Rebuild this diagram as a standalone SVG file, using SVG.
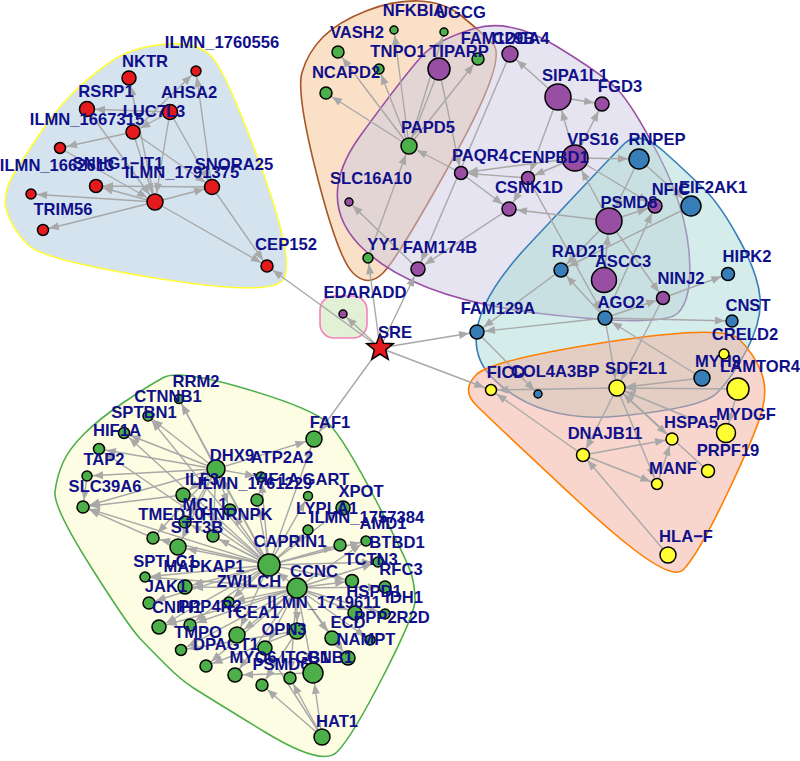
<svg xmlns="http://www.w3.org/2000/svg" width="800" height="761" viewBox="0 0 800 761">
<style>
.e path{stroke:#a8a8a8;stroke-width:1.4;fill:none}
.h{stroke-width:1.6;fill-opacity:0.5}
circle{stroke:#000;stroke-width:1.5}
text{font-family:"Liberation Sans",Arial,sans-serif;font-weight:bold;font-size:16.6px;fill:#10108a;text-anchor:middle}
.r circle{fill:#E41A1C}.g circle{fill:#4DAF4A}.p circle{fill:#984EA3}.b circle{fill:#377EB8}.y circle{fill:#FFFF33}
marker{overflow:visible}
</style>
<defs>
<marker id="a4" markerUnits="userSpaceOnUse" markerWidth="1" markerHeight="1" refX="5" refY="0" orient="auto" overflow="visible"><path d="M-10,-4L0,0L-10,4Z" fill="#a8a8a8"/></marker>
<marker id="a5" markerUnits="userSpaceOnUse" markerWidth="1" markerHeight="1" refX="6" refY="0" orient="auto" overflow="visible"><path d="M-10,-4L0,0L-10,4Z" fill="#a8a8a8"/></marker>
<marker id="a6" markerUnits="userSpaceOnUse" markerWidth="1" markerHeight="1" refX="7" refY="0" orient="auto" overflow="visible"><path d="M-10,-4L0,0L-10,4Z" fill="#a8a8a8"/></marker>
<marker id="a7" markerUnits="userSpaceOnUse" markerWidth="1" markerHeight="1" refX="8" refY="0" orient="auto" overflow="visible"><path d="M-10,-4L0,0L-10,4Z" fill="#a8a8a8"/></marker>
<marker id="a8" markerUnits="userSpaceOnUse" markerWidth="1" markerHeight="1" refX="9" refY="0" orient="auto" overflow="visible"><path d="M-10,-4L0,0L-10,4Z" fill="#a8a8a8"/></marker>
<marker id="a9" markerUnits="userSpaceOnUse" markerWidth="1" markerHeight="1" refX="10" refY="0" orient="auto" overflow="visible"><path d="M-10,-4L0,0L-10,4Z" fill="#a8a8a8"/></marker>
<marker id="a10" markerUnits="userSpaceOnUse" markerWidth="1" markerHeight="1" refX="11" refY="0" orient="auto" overflow="visible"><path d="M-10,-4L0,0L-10,4Z" fill="#a8a8a8"/></marker>
<marker id="a11" markerUnits="userSpaceOnUse" markerWidth="1" markerHeight="1" refX="12" refY="0" orient="auto" overflow="visible"><path d="M-10,-4L0,0L-10,4Z" fill="#a8a8a8"/></marker>
<marker id="a13" markerUnits="userSpaceOnUse" markerWidth="1" markerHeight="1" refX="14" refY="0" orient="auto" overflow="visible"><path d="M-10,-4L0,0L-10,4Z" fill="#a8a8a8"/></marker>
</defs>
<rect width="800" height="761" fill="#fff"/>
<g id="groups">
<path class="h" fill="#abc7df" stroke="#FFFF33" d="M162.5,44.5 Q196,41 211,56 Q226,71 261.5,168.5 Q297,266 282,281 Q267,296 155,278 Q43,260 28,245 Q13,230 7,212 Q1,194 15.5,171 Q30,148 43.5,128.5 Q57,109 72,94 Q87,79 108,63.5 Q129,48 162.5,44.5 Z"/>
<path class="h" fill="#f5c18d" stroke="#A65628" d="M419,1 Q444,2 461,15.5 Q478,29 493,44 Q508,59 453,158.5 Q398,258 383,273 Q368,288 353,273 Q338,258 317,175.5 Q296,93 302,72.5 Q308,52 323,37 Q338,22 366,11 Q394,0 419,1 Z"/>
<path class="h" fill="#cdc9e3" stroke="#984EA3" d="M474.5,28.5 Q510,18 556,46 Q602,74 617,89 Q632,104 658.5,155 Q685,206 689,252 Q693,298 678,313 Q663,328 540.5,313.5 Q418,299 365,250.5 Q312,202 360.5,135.5 Q409,69 424,54 Q439,39 474.5,28.5 Z"/>
<path class="h" fill="#abdbd5" stroke="#377EB8" d="M624,144 Q639,129 665,152.5 Q691,176 706,191 Q721,206 739.5,240 Q758,274 760,297.5 Q762,321 747,349.5 Q732,378 717,393 Q702,408 620,416 Q538,424 492.5,378 Q447,332 528,245.5 Q609,159 624,144 Z"/>
<path class="h" fill="#f3ad9b" stroke="#FF7F00" d="M476,375 Q491,360 607.5,342 Q724,324 739,339 Q754,354 761,371.5 Q768,389 762,411 Q756,433 727,494 Q698,555 683,570 Q668,585 579.5,502.5 Q491,420 476,405 Q461,390 476,375 Z"/>
<path class="h" fill="#fbfbc7" stroke="#4DAF4A" d="M163.5,377.5 Q179,369 246.5,389 Q314,409 329,424 Q344,439 376,500.5 Q408,562 411.5,574.5 Q415,587 415,600.5 Q415,614 383.5,675.5 Q352,737 337,752 Q322,767 264,731.5 Q206,696 193.5,688 Q181,680 166,665 Q151,650 140,638.5 Q129,627 91,567 Q53,507 55,491.5 Q57,476 63,462.5 Q69,449 84,434 Q99,419 123.5,402.5 Q148,386 163.5,377.5 Z"/>
<rect class="h" fill="#c5e1ab" stroke="#F781BF" x="320" y="296" width="47" height="42" rx="14"/>
</g>
<g id="edges" class="e">
<g marker-end="url(#a4)">
<path d="M380 348L343 314"/><path d="M409 146L394 30"/><path d="M409 146L444 32"/><path d="M418 269L349 202"/><path d="M477 332L538 394"/>
</g>
<g marker-end="url(#a5)">
<path d="M380 348L368 258"/><path d="M133 132L196 71"/><path d="M212 187L196 71"/><path d="M155 202L31 194"/><path d="M155 202L43 230"/><path d="M409 146L379 69"/>
<path d="M216 469L179 399"/><path d="M216 469L148 416"/><path d="M216 469L87 476"/><path d="M216 469L261 477"/>
<path d="M269 565L179 399"/><path d="M269 565L148 416"/><path d="M269 565L145 577"/><path d="M269 565L261 477"/><path d="M269 565L308 496"/><path d="M269 565L308 530"/><path d="M269 565L366 541"/><path d="M269 565L378 562"/><path d="M269 565L229 602"/>
<path d="M297 588L378 562"/><path d="M297 588L385 614"/><path d="M297 588L370 640"/><path d="M297 588L229 602"/><path d="M297 588L366 541"/><path d="M297 588L145 577"/>
</g>
<g marker-end="url(#a6)">
<path d="M380 348L267 266"/><path d="M380 348L491 390"/><path d="M133 132L60 148"/><path d="M155 202L96 186"/><path d="M155 202L267 266"/><path d="M212 187L267 266"/><path d="M212 187L96 186"/>
<path d="M409 146L338 52"/><path d="M409 146L326 93"/><path d="M409 146L478 59"/><path d="M439 69L461 173"/><path d="M528 178L461 173"/><path d="M575 158L528 178"/><path d="M575 158L461 173"/><path d="M558 97L528 178"/>
<path d="M609 221L663 298"/><path d="M605 318L663 298"/><path d="M605 318L732 321"/><path d="M663 298L728 274"/>
<path d="M617 388L491 390"/><path d="M617 388L583 455"/><path d="M617 388L657 484"/><path d="M617 388L672 439"/><path d="M583 455L672 439"/><path d="M583 455L657 484"/><path d="M668 555L583 455"/><path d="M583 455L491 390"/><path d="M657 484L672 439"/>
<path d="M216 469L124 433"/><path d="M216 469L99 449"/><path d="M216 469L83 507"/><path d="M216 469L153 538"/><path d="M216 469L230 510"/><path d="M216 469L213 536"/><path d="M216 469L185 522"/>
<path d="M269 565L124 433"/><path d="M269 565L185 522"/><path d="M269 565L230 510"/><path d="M269 565L213 536"/><path d="M269 565L83 507"/><path d="M269 565L149 603"/><path d="M269 565L257 500"/><path d="M269 565L340 545"/><path d="M269 565L153 538"/><path d="M269 565L99 449"/><path d="M269 565L352 581"/><path d="M269 565L190 625"/>
<path d="M297 588L352 581"/><path d="M297 588L385 587"/><path d="M297 588L190 625"/><path d="M297 588L206 666"/><path d="M297 588L290 678"/><path d="M297 588L181 650"/>
<path d="M297 631L262 685"/><path d="M297 631L206 666"/><path d="M297 631L181 650"/><path d="M322 737L262 685"/><path d="M322 737L290 678"/>
<path d="M87 476L83 507"/><path d="M183 495L83 507"/><path d="M153 538L83 507"/>
</g>
<g marker-end="url(#a7)">
<path d="M380 348L418 269"/><path d="M380 348L477 332"/><path d="M170 112L87 109"/><path d="M170 112L133 132"/><path d="M155 202L129 78"/><path d="M155 202L212 187"/><path d="M133 132L212 187"/><path d="M170 112L212 187"/>
<path d="M510 54L418 269"/><path d="M461 173L509 209"/><path d="M509 209L418 269"/><path d="M528 178L509 209"/><path d="M558 97L602 104"/><path d="M575 158L602 104"/><path d="M575 158L655 206"/><path d="M609 221L509 209"/><path d="M609 221L655 206"/>
<path d="M691 206L561 270"/><path d="M609 221L561 270"/><path d="M605 318L655 206"/><path d="M605 318L561 270"/><path d="M605 318L477 332"/><path d="M561 270L477 332"/><path d="M528 178L605 318"/><path d="M702 378L605 318"/>
<path d="M216 469L183 495"/><path d="M269 565L183 495"/><path d="M269 565L185 587"/><path d="M269 565L343 508"/><path d="M269 565L159 627"/>
<path d="M297 588L355 613"/><path d="M297 588L332 638"/><path d="M297 588L348 658"/><path d="M297 588L265 648"/><path d="M297 588L235 675"/><path d="M297 588L159 627"/><path d="M297 588L185 587"/>
<path d="M322 737L265 648"/><path d="M313 673L235 675"/>
</g>
<g marker-end="url(#a8)">
<path d="M380 348L314 439"/><path d="M133 132L155 202"/><path d="M170 112L155 202"/><path d="M87 109L155 202"/><path d="M60 148L155 202"/>
<path d="M461 173L409 146"/><path d="M439 69L409 146"/><path d="M368 258L409 146"/><path d="M558 97L510 54"/>
<path d="M605 318L617 388"/><path d="M702 378L617 388"/><path d="M738 389L617 388"/><path d="M672 439L617 388"/><path d="M708 471L617 388"/><path d="M726 433L617 388"/><path d="M663 298L617 388"/>
<path d="M216 469L314 439"/><path d="M216 469L178 547"/><path d="M269 565L178 547"/><path d="M269 565L314 439"/><path d="M269 565L237 635"/><path d="M297 588L297 631"/><path d="M297 588L237 635"/>
</g>
<g marker-end="url(#a9)">
<path d="M269 565L216 469"/><path d="M738 389L726 433"/>
</g>
<g marker-end="url(#a10)">
<path d="M575 158L639 159"/><path d="M639 159L691 206"/><path d="M297 588L313 673"/><path d="M322 737L313 673"/>
</g>
<g marker-end="url(#a11)">
<path d="M297 588L269 565"/>
</g>
<g marker-end="url(#a13)">
<path d="M575 158L558 97"/><path d="M609 221L575 158"/><path d="M639 159L609 221"/><path d="M604 280L609 221"/>
</g>
</g>
<g id="nodes">
<g id="n-SRE"><polygon points="380,334 383.5,343.2 393.3,343.7 385.7,349.9 388.2,359.3 380,354 371.8,359.3 374.3,349.9 366.7,343.7 376.5,343.2" fill="#E41A1C" stroke="#000" stroke-width="1.5"/><text x="395" y="338">SRE</text></g>
<g id="n-ILMN_1760556" class="r"><circle cx="196" cy="71" r="5"/><text x="222" y="48">ILMN_1760556</text></g>
<g id="n-NKTR" class="r"><circle cx="129" cy="78" r="7"/><text x="145" y="67">NKTR</text></g>
<g id="n-RSRP1" class="r"><circle cx="87" cy="109" r="7.5"/><text x="106" y="97">RSRP1</text></g>
<g id="n-AHSA2" class="r"><circle cx="170" cy="112" r="7.5"/><text x="189" y="98">AHSA2</text></g>
<g id="n-LUC7L3" class="r"><circle cx="133" cy="132" r="7"/><text x="154" y="117">LUC7L3</text></g>
<g id="n-ILMN_1667315" class="r"><circle cx="60" cy="148" r="5.5"/><text x="87" y="125">ILMN_1667315</text></g>
<g id="n-ILMN_1662613" class="r"><circle cx="31" cy="194" r="5"/><text x="57" y="171">ILMN_1662613</text></g>
<g id="n-SNHG1-IT1" class="r"><circle cx="96" cy="186" r="6.5"/><text x="118" y="169">SNHG1−IT1</text></g>
<g id="n-ILMN_1791375" class="r"><circle cx="155" cy="202" r="8"/><text x="182" y="178">ILMN_1791375</text></g>
<g id="n-SNORA25" class="r"><circle cx="212" cy="187" r="7.5"/><text x="234" y="170">SNORA25</text></g>
<g id="n-TRIM56" class="r"><circle cx="43" cy="230" r="5.5"/><text x="63" y="215">TRIM56</text></g>
<g id="n-CEP152" class="r"><circle cx="267" cy="266" r="6"/><text x="286" y="250">CEP152</text></g>
<g id="n-NFKBIA" class="g"><circle cx="394" cy="30" r="4"/><text x="414" y="16">NFKBIA</text></g>
<g id="n-UGCG" class="g"><circle cx="444" cy="32" r="4"/><text x="461" y="18">UGCG</text></g>
<g id="n-VASH2" class="g"><circle cx="338" cy="52" r="6"/><text x="357" y="38">VASH2</text></g>
<g id="n-TNPO1" class="g"><circle cx="379" cy="69" r="5"/><text x="398" y="57">TNPO1</text></g>
<g id="n-NCAPD2" class="g"><circle cx="326" cy="93" r="6"/><text x="346" y="78">NCAPD2</text></g>
<g id="n-FAM129B" class="g"><circle cx="478" cy="59" r="6"/><text x="498" y="44">FAM129B</text></g>
<g id="n-PAPD5" class="g"><circle cx="409" cy="146" r="8"/><text x="428" y="133">PAPD5</text></g>
<g id="n-YY1" class="g"><circle cx="368" cy="258" r="5"/><text x="383" y="250">YY1</text></g>
<g id="n-TIPARP" class="p"><circle cx="439" cy="69" r="11"/><text x="459" y="57">TIPARP</text></g>
<g id="n-CDCA4" class="p"><circle cx="510" cy="54" r="8"/><text x="521" y="44">CDCA4</text></g>
<g id="n-SIPA1L1" class="p"><circle cx="558" cy="97" r="13"/><text x="575" y="81">SIPA1L1</text></g>
<g id="n-FGD3" class="p"><circle cx="602" cy="104" r="7"/><text x="620" y="92">FGD3</text></g>
<g id="n-VPS16" class="p"><circle cx="575" cy="158" r="13"/><text x="593" y="145">VPS16</text></g>
<g id="n-CENPBD1" class="p"><circle cx="528" cy="178" r="6.5"/><text x="549" y="163">CENPBD1</text></g>
<g id="n-PAQR4" class="p"><circle cx="461" cy="173" r="6.5"/><text x="480" y="161">PAQR4</text></g>
<g id="n-CSNK1D" class="p"><circle cx="509" cy="209" r="7"/><text x="529" y="193">CSNK1D</text></g>
<g id="n-NFIC" class="p"><circle cx="655" cy="206" r="7"/><text x="671" y="195">NFIC</text></g>
<g id="n-PSMD8" class="p"><circle cx="609" cy="221" r="13"/><text x="629" y="208">PSMD8</text></g>
<g id="n-ASCC3" class="p"><circle cx="604" cy="280" r="12.5"/><text x="623" y="267">ASCC3</text></g>
<g id="n-NINJ2" class="p"><circle cx="663" cy="298" r="6.5"/><text x="681" y="284">NINJ2</text></g>
<g id="n-FAM174B" class="p"><circle cx="418" cy="269" r="7"/><text x="440" y="253">FAM174B</text></g>
<g id="n-SLC16A10" class="p"><circle cx="349" cy="202" r="4"/><text x="371" y="184">SLC16A10</text></g>
<g id="n-EDARADD" class="p"><circle cx="343" cy="314" r="4"/><text x="365" y="298">EDARADD</text></g>
<g id="n-RNPEP" class="b"><circle cx="639" cy="159" r="10"/><text x="657" y="145">RNPEP</text></g>
<g id="n-EIF2AK1" class="b"><circle cx="691" cy="206" r="10"/><text x="713" y="193">EIF2AK1</text></g>
<g id="n-RAD21" class="b"><circle cx="561" cy="270" r="7"/><text x="579" y="257">RAD21</text></g>
<g id="n-HIPK2" class="b"><circle cx="728" cy="274" r="6.5"/><text x="747" y="262">HIPK2</text></g>
<g id="n-AGO2" class="b"><circle cx="605" cy="318" r="7"/><text x="621" y="308">AGO2</text></g>
<g id="n-CNST" class="b"><circle cx="732" cy="321" r="6"/><text x="748" y="311">CNST</text></g>
<g id="n-FAM129A" class="b"><circle cx="477" cy="332" r="7"/><text x="498" y="314">FAM129A</text></g>
<g id="n-MYH9" class="b"><circle cx="702" cy="378" r="8"/><text x="718" y="367">MYH9</text></g>
<g id="n-COL4A3BP" class="b"><circle cx="538" cy="394" r="4"/><text x="555" y="377">COL4A3BP</text></g>
<g id="n-CRELD2" class="y"><circle cx="724" cy="354" r="5"/><text x="745" y="340">CRELD2</text></g>
<g id="n-FICD" class="y"><circle cx="491" cy="390" r="5.5"/><text x="506" y="378">FICD</text></g>
<g id="n-SDF2L1" class="y"><circle cx="617" cy="388" r="8"/><text x="636" y="374">SDF2L1</text></g>
<g id="n-LAMTOR4" class="y"><circle cx="738" cy="389" r="11"/><text x="760" y="372">LAMTOR4</text></g>
<g id="n-MYDGF" class="y"><circle cx="726" cy="433" r="9.5"/><text x="746" y="420">MYDGF</text></g>
<g id="n-HSPA5" class="y"><circle cx="672" cy="439" r="6"/><text x="691" y="428">HSPA5</text></g>
<g id="n-DNAJB11" class="y"><circle cx="583" cy="455" r="6.5"/><text x="605" y="439">DNAJB11</text></g>
<g id="n-PRPF19" class="y"><circle cx="708" cy="471" r="6.5"/><text x="728" y="456">PRPF19</text></g>
<g id="n-MANF" class="y"><circle cx="657" cy="484" r="5.5"/><text x="673" y="474">MANF</text></g>
<g id="n-HLA-F" class="y"><circle cx="668" cy="555" r="8"/><text x="686" y="542">HLA−F</text></g>
<g id="n-RRM2" class="g"><circle cx="179" cy="399" r="4.5"/><text x="196" y="387">RRM2</text></g>
<g id="n-CTNNB1" class="g"><circle cx="148" cy="416" r="5"/><text x="168" y="402">CTNNB1</text></g>
<g id="n-SPTBN1" class="g"><circle cx="124" cy="433" r="5.5"/><text x="144" y="418">SPTBN1</text></g>
<g id="n-HIF1A" class="g"><circle cx="99" cy="449" r="5.5"/><text x="117" y="436">HIF1A</text></g>
<g id="n-TAP2" class="g"><circle cx="87" cy="476" r="5"/><text x="104" y="465">TAP2</text></g>
<g id="n-SLC39A6" class="g"><circle cx="83" cy="507" r="6"/><text x="105" y="492">SLC39A6</text></g>
<g id="n-DHX9" class="g"><circle cx="216" cy="469" r="9"/><text x="232" y="461">DHX9</text></g>
<g id="n-ILF3" class="g"><circle cx="183" cy="495" r="7"/><text x="202" y="485">ILF3</text></g>
<g id="n-ATP2A2" class="g"><circle cx="261" cy="477" r="5"/><text x="282" y="463">ATP2A2</text></g>
<g id="n-YIF1A" class="g"><circle cx="257" cy="500" r="6"/><text x="276" y="485">YIF1A</text></g>
<g id="n-ILMN_1761229" class="g"><circle cx="230" cy="510" r="6"/><text x="255" y="489">ILMN_1761229</text></g>
<g id="n-GART" class="g"><circle cx="308" cy="496" r="4.5"/><text x="326" y="485">GART</text></g>
<g id="n-FAF1" class="g"><circle cx="314" cy="439" r="8"/><text x="330" y="428">FAF1</text></g>
<g id="n-XPOT" class="g"><circle cx="343" cy="508" r="7"/><text x="361" y="497">XPOT</text></g>
<g id="n-LYPLA1" class="g"><circle cx="308" cy="530" r="5"/><text x="327" y="514">LYPLA1</text></g>
<g id="n-ILMN_1757384" class="g"><circle cx="340" cy="545" r="6"/><text x="367" y="523">ILMN_1757384</text></g>
<g id="n-AMD1" class="g"><circle cx="366" cy="541" r="5"/><text x="383" y="529">AMD1</text></g>
<g id="n-BTBD1" class="g"><circle cx="378" cy="562" r="5"/><text x="397" y="548">BTBD1</text></g>
<g id="n-MCL1" class="g"><circle cx="185" cy="522" r="6"/><text x="205" y="510">MCL1</text></g>
<g id="n-HNRNPK" class="g"><circle cx="213" cy="536" r="6"/><text x="237" y="520">HNRNPK</text></g>
<g id="n-TMED10" class="g"><circle cx="153" cy="538" r="6"/><text x="171" y="520">TMED10</text></g>
<g id="n-STT3B" class="g"><circle cx="178" cy="547" r="8"/><text x="197" y="533">STT3B</text></g>
<g id="n-SPTLC1" class="g"><circle cx="145" cy="577" r="5"/><text x="165" y="567">SPTLC1</text></g>
<g id="n-CAPRIN1" class="g"><circle cx="269" cy="565" r="11"/><text x="290" y="547">CAPRIN1</text></g>
<g id="n-TCTN3" class="g"><circle cx="352" cy="581" r="6.5"/><text x="371" y="565">TCTN3</text></g>
<g id="n-RFC3" class="g"><circle cx="385" cy="587" r="6"/><text x="401" y="575">RFC3</text></g>
<g id="n-HSPD1" class="g"><circle cx="355" cy="613" r="7"/><text x="374" y="597">HSPD1</text></g>
<g id="n-IDH1" class="g"><circle cx="385" cy="614" r="5"/><text x="404" y="603">IDH1</text></g>
<g id="n-PPP2R2D" class="g"><circle cx="370" cy="640" r="5"/><text x="392" y="623">PPP2R2D</text></g>
<g id="n-ILMN_1719611" class="g"><circle cx="297" cy="631" r="8"/><text x="324" y="608">ILMN_1719611</text></g>
<g id="n-OPN3" class="g"><circle cx="265" cy="648" r="7"/><text x="284" y="635">OPN3</text></g>
<g id="n-ECD" class="g"><circle cx="332" cy="638" r="7"/><text x="348" y="628">ECD</text></g>
<g id="n-NAMPT" class="g"><circle cx="348" cy="658" r="7"/><text x="366" y="645">NAMPT</text></g>
<g id="n-CCNC" class="g"><circle cx="297" cy="588" r="10"/><text x="314" y="577">CCNC</text></g>
<g id="n-ZWILCH" class="g"><circle cx="229" cy="602" r="5"/><text x="249" y="587">ZWILCH</text></g>
<g id="n-MAPKAP1" class="g"><circle cx="185" cy="587" r="7"/><text x="204" y="572">MAPKAP1</text></g>
<g id="n-JAK1" class="g"><circle cx="149" cy="603" r="6"/><text x="166" y="592">JAK1</text></g>
<g id="n-CNIH1" class="g"><circle cx="159" cy="627" r="7"/><text x="177" y="613">CNIH1</text></g>
<g id="n-PPP4R2" class="g"><circle cx="190" cy="625" r="6"/><text x="210" y="612">PPP4R2</text></g>
<g id="n-TMPO" class="g"><circle cx="181" cy="650" r="5.5"/><text x="198" y="638">TMPO</text></g>
<g id="n-DPAGT1" class="g"><circle cx="206" cy="666" r="6"/><text x="226" y="650">DPAGT1</text></g>
<g id="n-TCEA1" class="g"><circle cx="237" cy="635" r="8"/><text x="252" y="618">TCEA1</text></g>
<g id="n-MYO6" class="g"><circle cx="235" cy="675" r="7"/><text x="253" y="663">MYO6</text></g>
<g id="n-PSMD6" class="g"><circle cx="262" cy="685" r="6"/><text x="281" y="670">PSMD6</text></g>
<g id="n-ITGB1" class="g"><circle cx="290" cy="678" r="6"/><text x="305" y="663">ITGB1</text></g>
<g id="n-GNB1" class="g"><circle cx="313" cy="673" r="10"/><text x="330" y="663">GNB1</text></g>
<g id="n-HAT1" class="g"><circle cx="322" cy="737" r="8"/><text x="337" y="727">HAT1</text></g>
</g>
</svg>
